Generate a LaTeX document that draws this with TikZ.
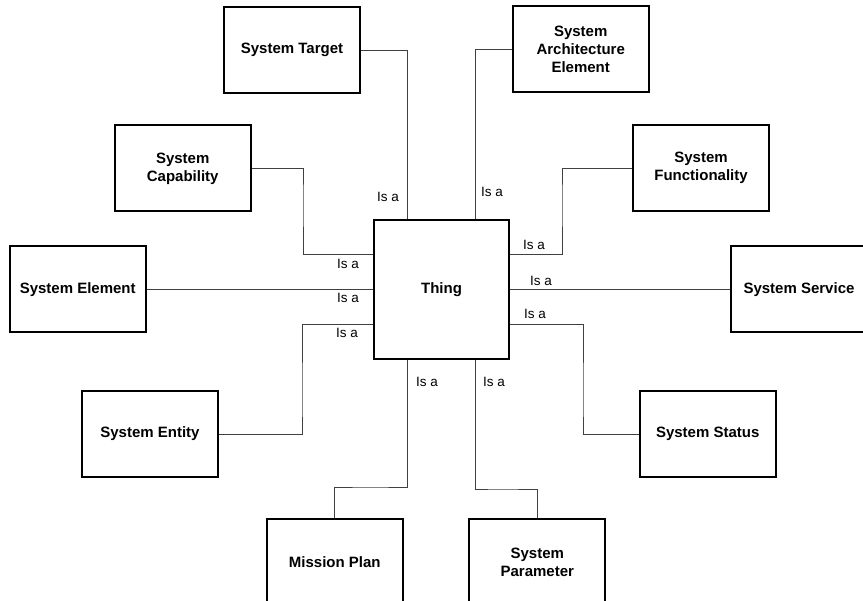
\documentclass[tikz,border=0pt]{standalone}
\usepackage{fontspec}
\setmainfont{Liberation Sans}
\usetikzlibrary{calc}
\begin{document}
\begin{tikzpicture}[x=1pt,y=-1pt,
  box/.style={draw=black,line width=2pt,fill=white,minimum width=136pt,minimum height=86pt,
    inner sep=2pt,align=center,font=\fontsize{15}{18}\selectfont\bfseries},
  conn/.style={draw=black!75,line width=0.9pt},
  isa/.style={inner sep=0pt,font=\fontsize{13.5}{16}\selectfont}]
\useasboundingbox (0,0) rectangle (863,601);
\clip (0,0) rectangle (863,601);
% connectors first (under boxes)
\coordinate (thingc) at (441.5,289.5);
\coordinate (tn1) at (407.75,220);
\coordinate (tn2) at (475.25,220);
\coordinate (tb1) at (407.75,359);
\coordinate (tb2) at (475.25,359);
\coordinate (tw1) at (374,254.75);
\coordinate (tw2) at (374,289.5);
\coordinate (tw3) at (374,324.25);
\coordinate (te1) at (509,254.75);
\coordinate (te2) at (509,289.5);
\coordinate (te3) at (509,324.25);

\node[box] (target) at (292,50) {System Target};
\node[box] (arch) at (580.7,49.5) {System\\Architecture\\Element};
\node[box] (cap) at (182.7,168.5) {System\\Capability};
\node[box] (func) at (701,168) {System\\Functionality};
\node[box] (elem) at (77.7,289.5) {System Element};
\node[box] (serv) at (799,289.5) {System Service};
\node[box] (ent) at (150,434) {System Entity};
\node[box] (stat) at (707.7,434) {System Status};
\node[box] (miss) at (334.8,562) {Mission Plan};
\node[box] (param) at (537.3,562) {System\\Parameter};

\coordinate (bcap) at (303,200);
\coordinate (bfun) at (562,200);
\coordinate (bent) at (302,400);
\coordinate (bsta) at (583,400);
\coordinate (bmis) at (370,487);
\coordinate (bpar) at (500,489);

\draw[conn] (target.east) -| (tn1);
\draw[conn] (arch.west) -| (tn2);
\draw[conn] (cap.east) -| (bcap) |- (tw1);
\draw[conn] (func.west) -| (bfun) |- (te1);
\draw[conn] (elem.east) -- (tw2);
\draw[conn] (te2) -- (serv.west);
\draw[conn] (ent.east) -| (bent) |- (tw3);
\draw[conn] (stat.west) -| (bsta) |- (te3);
\draw[conn] (miss.north) |- (bmis) -| (tb1);
\draw[conn] (param.north) |- (bpar) -| (tb2);

\node[box,minimum width=135pt,minimum height=139pt] (thing) at (thingc) {Thing};

\node[isa] (l1) at (388,197) {Is a};
\node[isa] (l2) at (492,192) {Is a};
\node[isa] (l3) at (534,245) {Is a};
\node[isa] (l4) at (541,281) {Is a};
\node[isa] (l5) at (535,314) {Is a};
\node[isa] (l6) at (348,264) {Is a};
\node[isa] (l7) at (348,298) {Is a};
\node[isa] (l8) at (347,333) {Is a};
\node[isa] (l9) at (427,382) {Is a};
\node[isa] (l10) at (494,382) {Is a};
\end{tikzpicture}
\end{document}
